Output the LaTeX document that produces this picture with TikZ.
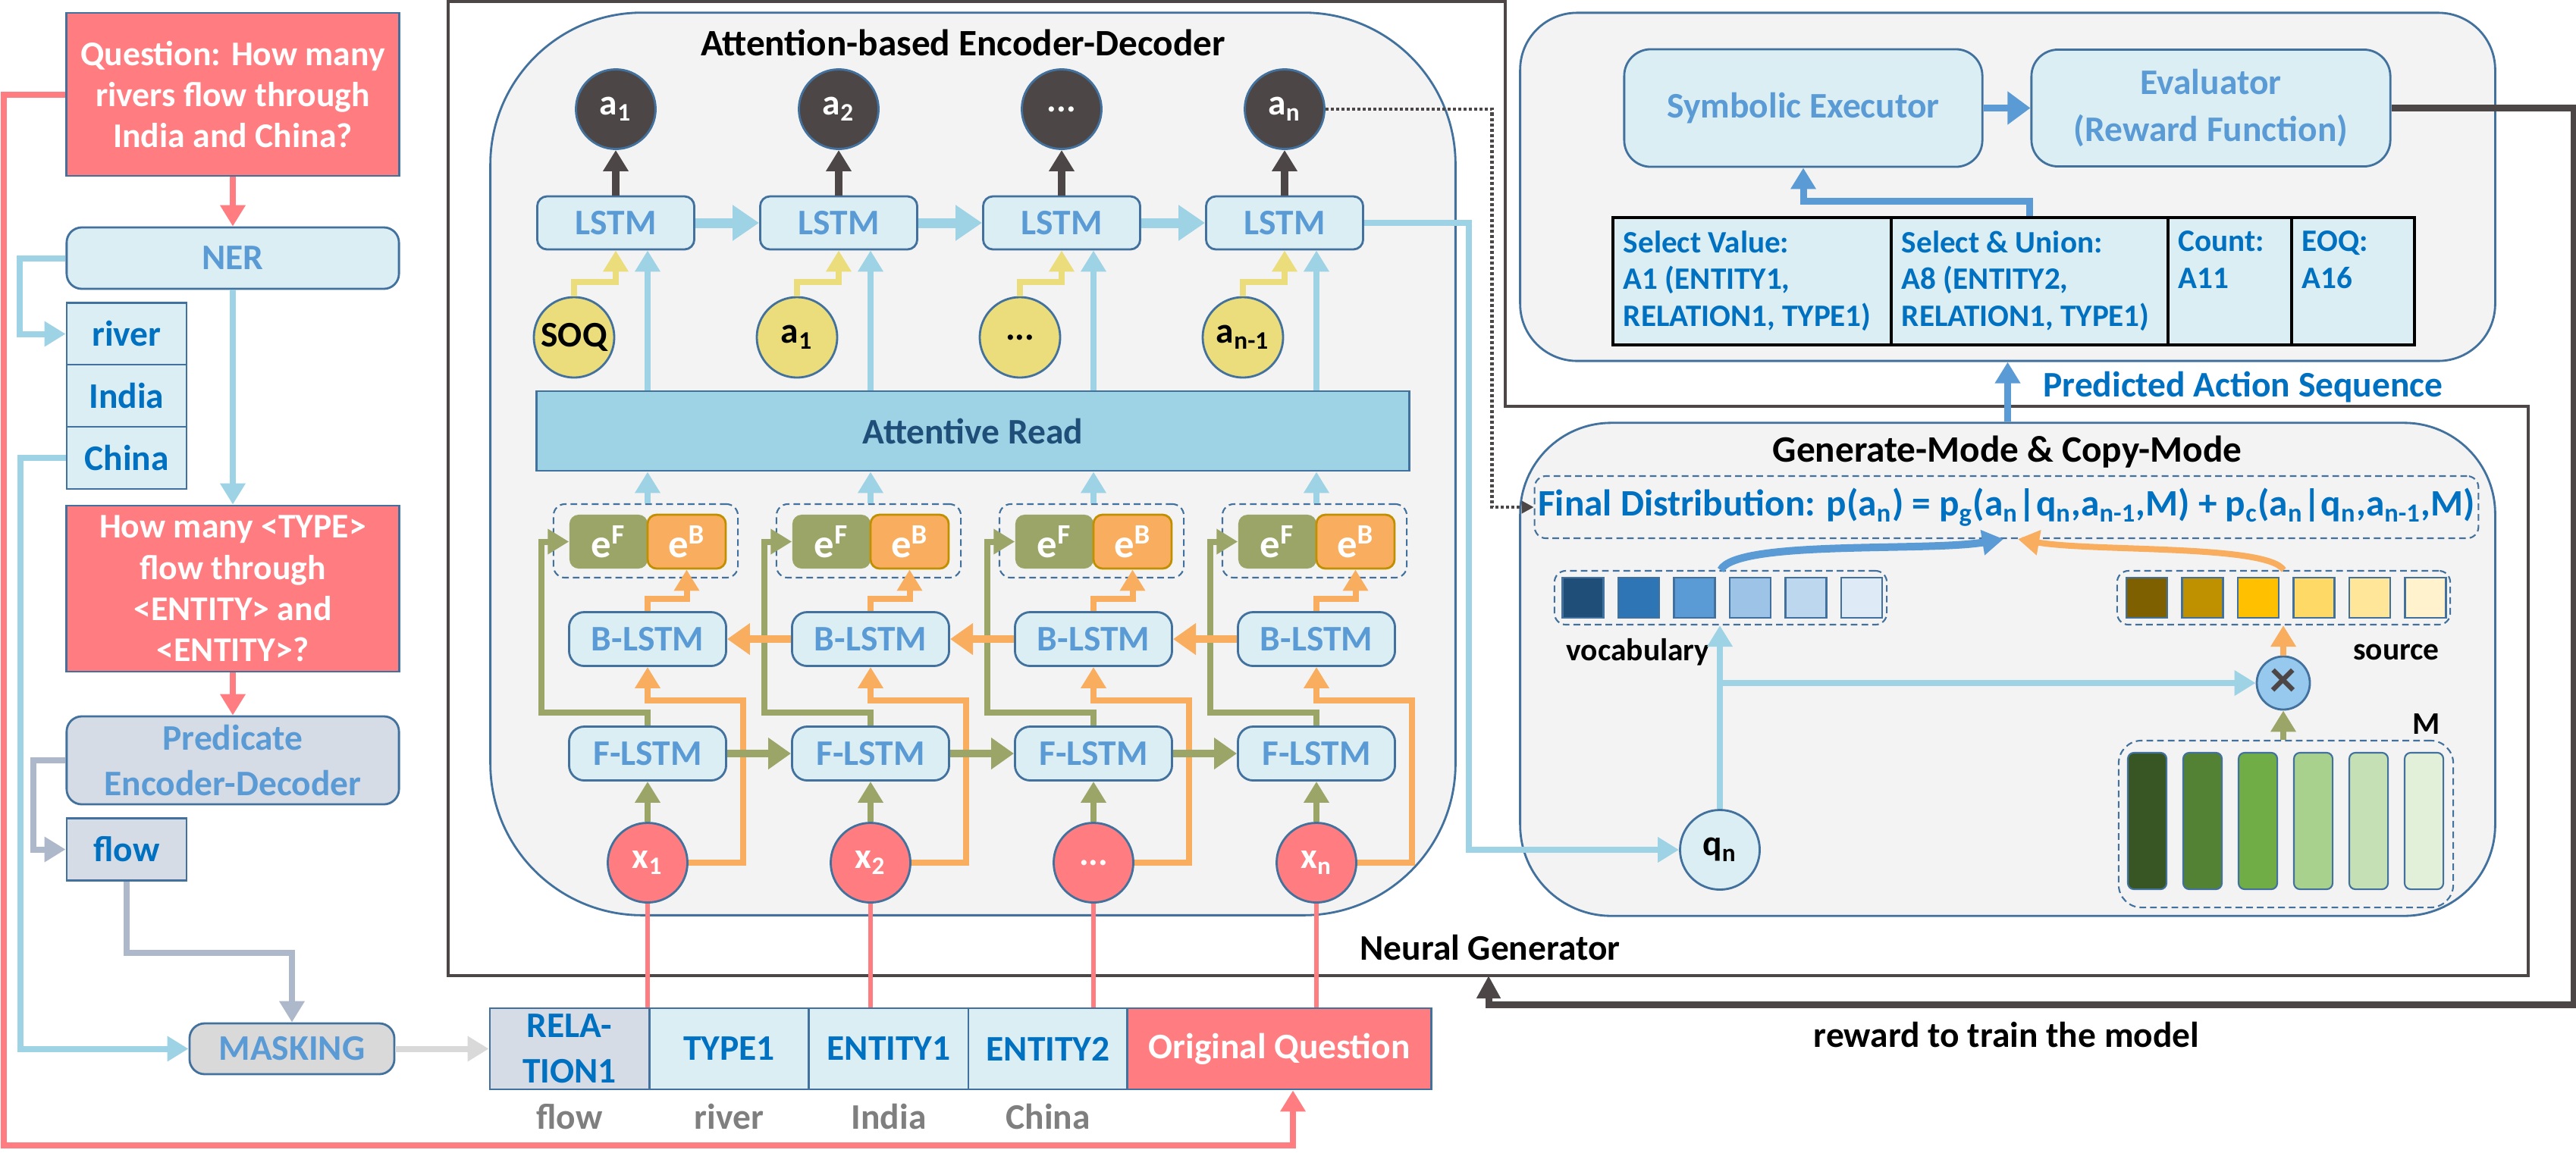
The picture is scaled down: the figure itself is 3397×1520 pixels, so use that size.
\documentclass[tikz,border=0pt]{standalone}
\usepackage{fontspec}
\setmainfont{Carlito}
\usetikzlibrary{arrows.meta,positioning}

\definecolor{pinkq}{HTML}{FF7C80}
\definecolor{edgeblue}{HTML}{41719C}
\definecolor{paleblue}{HTML}{DAEEF3}
\definecolor{midblue}{HTML}{5B9BD5}
\definecolor{deepblue}{HTML}{0070C0}
\definecolor{skyblue}{HTML}{9DD3E5}
\definecolor{slate}{HTML}{D6DCE5}
\definecolor{slatearrow}{HTML}{ADB9CA}
\definecolor{greyfill}{HTML}{D9D9D9}
\definecolor{panelgray}{HTML}{F3F3F3}
\definecolor{charcoal}{HTML}{4D4646}
\definecolor{olive}{HTML}{9BA567}
\definecolor{peach}{HTML}{F9AE5F}
\definecolor{peachedge}{HTML}{C09000}
\definecolor{sand}{HTML}{EBDC7C}
\definecolor{navy}{HTML}{1F4E79}
\definecolor{labelgray}{HTML}{7F7F7F}
\definecolor{multfill}{HTML}{97C8EE}
% swatches
\definecolor{vocab0}{HTML}{1F4E79}
\definecolor{vocab1}{HTML}{2E75B6}
\definecolor{vocab2}{HTML}{5B9BD5}
\definecolor{vocab3}{HTML}{9DC3E6}
\definecolor{vocab4}{HTML}{BDD7EE}
\definecolor{vocab5}{HTML}{DEEBF7}
\definecolor{src0}{HTML}{7F6000}
\definecolor{src1}{HTML}{BF9000}
\definecolor{src2}{HTML}{FFC000}
\definecolor{src3}{HTML}{FFD966}
\definecolor{src4}{HTML}{FFE699}
\definecolor{src5}{HTML}{FFF2CC}
\definecolor{mem0}{HTML}{375623}
\definecolor{mem1}{HTML}{548235}
\definecolor{mem2}{HTML}{70AD47}
\definecolor{mem3}{HTML}{A9D18E}
\definecolor{mem4}{HTML}{C5E0B4}
\definecolor{mem5}{HTML}{E2F0D9}

\begin{document}
\begin{tikzpicture}[
  x=0.01cm, y=-0.01cm,
  every node/.style={inner sep=0pt, font=\bfseries\fontsize{13.5}{16}\selectfont},
  qbox/.style={draw=edgeblue, line width=0.8pt, fill=pinkq, text=white, align=center,
    minimum width=4.38cm, font=\bfseries\fontsize{13}{15.4}\selectfont},
  pill/.style={draw=edgeblue, line width=0.8pt, fill=paleblue, text=midblue, align=center,
    rounded corners=0.2cm, font=\bfseries\fontsize{13.5}{16.8}\selectfont},
  chip/.style={draw=edgeblue, line width=0.8pt, fill=paleblue, text=deepblue,
    minimum width=1.58cm, minimum height=0.82cm},
  slotcell/.style={draw=edgeblue, line width=0.8pt, fill=paleblue, text=deepblue, align=center,
    minimum width=2.1cm, minimum height=1.07cm, font=\bfseries\fontsize{13.5}{17}\selectfont},
  tag/.style={text=labelgray, text height=0.33cm, text depth=0pt},
  panel/.style={draw=edgeblue, line width=0.8pt, fill=panelgray},
  lstmbox/.style={draw=edgeblue, line width=0.8pt, fill=paleblue, text=midblue,
    rounded corners=0.13cm, minimum width=2.07cm, minimum height=0.7cm},
  outnode/.style={circle, draw=edgeblue, line width=0.8pt, fill=charcoal, text=white, minimum size=1.05cm},
  prevnode/.style={circle, draw=edgeblue, line width=0.8pt, fill=sand, minimum size=1.06cm},
  tokennode/.style={circle, draw=edgeblue, line width=0.8pt, fill=pinkq, text=white, minimum size=1.05cm},
  fwdcell/.style={fill=olive, text=white, rounded corners=0.12cm, minimum width=1.03cm, minimum height=0.71cm,
    font=\bfseries\fontsize{15}{17}\selectfont},
  bwdcell/.style={fwdcell, fill=peach, draw=peachedge, line width=0.8pt},
  groupbox/.style={draw=edgeblue, line width=0.6pt, dash pattern=on 2.5pt off 1.5pt, rounded corners=0.15cm},
  link/.style={line width=0.08cm, -{Triangle[length=0.28cm, width=0.32cm]}},
  pinklink/.style={link, draw=pinkq},
  skylink/.style={link, draw=skyblue},
  slatelink/.style={link, draw=slatearrow},
  greylink/.style={link, draw=greyfill},
  olivelink/.style={link, draw=olive},
  peachlink/.style={link, draw=peach},
  sandlink/.style={link, draw=sand},
  darklink/.style={link, draw=charcoal, line width=0.1cm},
  bluelink/.style={link, draw=midblue, line width=0.09cm},
  wideskylink/.style={skylink, line width=0.13cm, -{Triangle[length=0.35cm, width=0.45cm]}},
  pinkline/.style={draw=pinkq, line width=0.06cm},
  ngframe/.style={draw=charcoal, line width=1.3pt},
  actcell/.style={draw=black, line width=1pt, fill=paleblue, minimum height=1.68cm},
  acttext/.style={text=deepblue, align=left, font=\bfseries\fontsize{11.7}{13.7}\selectfont},
  swatch/.style={draw=edgeblue, line width=0.8pt, minimum width=0.54cm, minimum height=0.53cm},
  membar/.style={draw=edgeblue, line width=0.6pt, rounded corners=0.08cm, minimum width=0.51cm, minimum height=1.8cm},
  titletxt/.style={font=\bfseries\fontsize{14}{16}\selectfont},
  smalltxt/.style={font=\bfseries\fontsize{11.8}{13}\selectfont}
]
\useasboundingbox (0,0) rectangle (3397,1520);

% panels
\draw[ngframe] (591,2) -- (1985,2) -- (1985,536) -- (3334,536) -- (3334,1287) -- (591,1287) -- cycle;
\node[panel, rounded corners=2cm, minimum width=12.72cm, minimum height=11.9cm] (encdec) at (1283,612) {};
\node[panel, rounded corners=0.75cm, minimum width=12.85cm, minimum height=4.59cm] (execpanel) at (2647.5,246.5) {};
\node[panel, rounded corners=1.2cm, minimum width=12.85cm, minimum height=6.5cm] (genpanel) at (2647.5,883) {};
\node[titletxt] (enctitle) at (1270,56) {Attention-based Encoder-Decoder};
\node[titletxt] (gentitle) at (2647,596) {Generate-Mode \& Copy-Mode};
\node (ngtitle) at (1965,1250) {Neural Generator};

% left column
\node[qbox, minimum height=2.15cm] (question) at (307,124.5) {Question: How many\\rivers flow through\\India and China?};
\node[pill, minimum width=4.38cm, minimum height=0.81cm] (ner) at (307,340.5) {NER};
\node[chip] (river) at (167,440.5) {river};
\node[chip] (india) at (167,522) {India};
\node[chip] (china) at (167,604) {China};
\node[qbox, minimum height=2.19cm] (template) at (307,776.5) {How many <TYPE>\\flow through\\<ENTITY> and\\<ENTITY>?};
\node[pill, fill=slate, minimum width=4.38cm, minimum height=1.16cm] (pred) at (307,1003) {Predicate\\Encoder-Decoder};
\node[chip, fill=slate] (flow) at (167,1120.5) {flow};
\node[pill, fill=greyfill, minimum width=2.7cm, minimum height=0.67cm] (mask) at (385,1383.5) {MASKING};

% input row
\node[slotcell, fill=slate] (rel) at (751,1383.5) {RELA-\\TION1};
\node[slotcell] (type) at (961.5,1383.5) {TYPE1};
\node[slotcell] (ent1) at (1172,1383.5) {ENTITY1};
\node[slotcell] (ent2) at (1382,1383.5) {ENTITY2};
\node[slotcell, fill=pinkq, text=white, minimum width=4cm] (orig) at (1687,1383.5) {Original Question};
\node[tag, below=0.17cm of rel] (relword) {flow};
\node[tag, below=0.17cm of type] (typeword) {river};
\node[tag, below=0.17cm of ent1] (ent1word) {India};
\node[tag, below=0.17cm of ent2] (ent2word) {China};

\draw[pinklink] (question) -- (ner);
\draw[skylink] (ner.west) -- ++(-60,0) |- (river.west);
\draw[skylink] (ner) -- (template);
\draw[skylink] (china.west) -- ++(-60,0) |- (mask.west);
\draw[pinklink] (template) -- (pred);
\draw[slatelink] (pred.west) -- ++(-42,0) |- (flow.west);
\draw[slatelink] (flow.south) -- ++(0,94) -| (mask.north);
\draw[greylink] (mask) -- (rel);
\draw[pinklink] (question.west) -| (5,1511) -| ([xshift=0.18cm]orig.south);

% encoder-decoder
\node[fill=skyblue, draw=edgeblue, line width=0.8pt, text=navy, minimum width=11.5cm, minimum height=1.05cm] (read) at (1283,568.5) {Attentive Read};
\foreach \i/\x/\outlbl/\prevlbl/\inlbl in {
    1/854/{a\textsubscript{1}}/{SOQ}/{x\textsubscript{1}},
    2/1148/{a\textsubscript{2}}/{a\textsubscript{1}}/{x\textsubscript{2}},
    3/1442/{...}/{...}/{...},
    4/1736/{a\textsubscript{n}}/{a\textsubscript{n-1}}/{x\textsubscript{n}}} {
  \node[outnode] (act\i) at (\x-42,144) {\outlbl};
  \node[lstmbox] (lstm\i) at (\x-42,294) {LSTM};
  \node[prevnode] (prev\i) at (\x-97,445) {\prevlbl};
  \node[groupbox, minimum width=2.43cm, minimum height=0.97cm] (grp\i) at (\x-2.5,713.5) {};
  \node[fwdcell] (ef\i) at (\x-51.5,714.5) {e\textsuperscript{F}};
  \node[bwdcell] (eb\i) at (\x+51.5,714.5) {e\textsuperscript{B}};
  \node[lstmbox, rounded corners=0.2cm, minimum height=0.71cm] (blstm\i) at (\x,843) {B-LSTM};
  \node[lstmbox, rounded corners=0.2cm, minimum height=0.71cm] (flstm\i) at (\x,994) {F-LSTM};
  \node[tokennode] (tok\i) at (\x,1138) {\inlbl};
  \draw[darklink] (lstm\i.north) -- (act\i.south);
  \draw[sandlink] (prev\i.north) -- ++(0,-19) -| (lstm\i.south);
  \draw[skylink] (read.north -| tok\i) -- (lstm\i.south -| tok\i);
  \draw[skylink] (grp\i.north -| tok\i) -- (read.south -| tok\i);
  \draw[olivelink] (tok\i.north) -- (flstm\i.south);
  \draw[peachlink] (tok\i.east) -- ++(72,0) -- ++(0,-214) -| (blstm\i.south);
  \draw[olivelink] (flstm\i.north) -- ++(0,-17) -- ++(-140,0) |- (ef\i.west);
  \draw[peachlink] (blstm\i.north) -- ++(0,-16) -| (eb\i.south);
  \draw[pinkline] (tok\i.south) -- (tok\i.south |- rel.north);
}
\foreach \i/\j in {1/2,2/3,3/4} {
  \draw[wideskylink] (lstm\i) -- (lstm\j);
  \draw[olivelink, line width=0.1cm, -{Triangle[length=0.3cm, width=0.4cm]}] (flstm\i) -- (flstm\j);
  \draw[peachlink, line width=0.1cm, -{Triangle[length=0.3cm, width=0.4cm]}] (blstm\j) -- (blstm\i);
}

% executor and evaluator
\node[pill, minimum width=4.72cm, minimum height=1.55cm, rounded corners=0.35cm, font=\bfseries\fontsize{13.5}{17.5}\selectfont] (symexec) at (2378,142.5) {Symbolic Executor};
\node[pill, minimum width=4.73cm, minimum height=1.54cm, rounded corners=0.35cm, font=\bfseries\fontsize{13.5}{17.5}\selectfont] (evaluator) at (2915.5,142.5) {Evaluator\\(Reward Function)};
\draw[bluelink, -{Triangle[length=0.3cm, width=0.42cm]}] (symexec) -- (evaluator);
\node[actcell, minimum width=3.67cm] (slot1) at (2310.5,371) {};
\node[actcell, minimum width=3.65cm] (slot2) at (2676.5,371) {};
\node[actcell, minimum width=1.63cm] (slot3) at (2940.5,371) {};
\node[actcell, minimum width=1.62cm] (slot4) at (3103,371) {};
\node[acttext, anchor=north west] (slottext1) at ([shift={(0.15cm,-0.19cm)}]slot1.north west) {Select Value:\\A1 (ENTITY1,\\RELATION1, TYPE1)};
\node[acttext, anchor=north west] (slottext2) at ([shift={(0.15cm,-0.19cm)}]slot2.north west) {Select \& Union:\\A8 (ENTITY2,\\RELATION1, TYPE1)};
\node[acttext, anchor=north west] (slottext3) at ([shift={(0.15cm,-0.19cm)}]slot3.north west) {Count:\\A11};
\node[acttext, anchor=north west] (slottext4) at ([shift={(0.15cm,-0.19cm)}]slot4.north west) {EOQ:\\A16};
\draw[bluelink] (slot2.north) -- ++(0,-20) -| (symexec.south);
\draw[bluelink] (genpanel.north) -- (execpanel.south);
\node[text=deepblue] (seqlabel) at (2958,511) {Predicted Action Sequence};

% reward loop
\coordinate (hook) at (1963,1287);
\draw[charcoal, line width=0.09cm, -{Triangle[length=0.3cm, width=0.3cm]}] (evaluator.east) -| (3394,1325) -| (hook);
\node (rewardlbl) at (2646,1365) {reward to train the model};

% generate / copy
\node[groupbox, text=deepblue, minimum width=12.44cm, minimum height=0.82cm, font=\bfseries\fontsize{14}{16}\selectfont] (final) at (2646,669)
  {Final Distribution: p(a\textsubscript{n}) = p\textsubscript{g}(a\textsubscript{n}|q\textsubscript{n},a\textsubscript{n-1},M) + p\textsubscript{c}(a\textsubscript{n}|q\textsubscript{n},a\textsubscript{n-1},M)};
\node[groupbox, minimum width=4.38cm, minimum height=0.71cm] (vocab) at (2269,788.5) {};
\node[groupbox, minimum width=4.39cm, minimum height=0.71cm] (source) at (3011.5,788.5) {};
\node[groupbox, minimum width=4.41cm, minimum height=2.2cm, rounded corners=0.3cm] (memory) at (3014.5,1087) {};
\foreach \k in {0,...,5} {
  \node[swatch, fill=vocab\k] (vsw\k) at (2087.5+73.5*\k,788.5) {};
  \node[swatch, fill=src\k] (ssw\k) at (2831+73.5*\k,788.5) {};
  \node[membar, fill=mem\k] (mbar\k) at (2831.5+73*\k,1083) {};
}
\node[smalltxt] (vocablbl) at (2160,860) {vocabulary};
\node[smalltxt] (sourcelbl) at (3160,860) {source};
\node[smalltxt] (memlbl) at (3200,955) {M};
\node[circle, draw=edgeblue, line width=0.8pt, fill=paleblue, minimum size=1.05cm] (qn) at (2268,1121) {q\textsubscript{n}};
\node[circle, draw=edgeblue, line width=0.8pt, fill=multfill, text=charcoal, minimum size=0.7cm,
  font=\bfseries\fontsize{20}{20}\selectfont] (mult) at (3011,901) {×};
\draw[skylink] (qn.north) -- (vocab.south -| qn.north);
\draw[skylink] (qn.north |- mult.west) -- (mult.west);
\draw[peachlink] (mult.north) -- (source.south -| mult.north);
\draw[olivelink] (memory.north -| mult.south) -- (mult.south);
\draw[bluelink, line width=0.1cm] (vocab.north) .. controls (2290,712) and (2540,728) .. ([xshift=-0.04cm]final.south);
\draw[peachlink] (source.north) .. controls (2990,718) and (2760,728) .. ([xshift=0.15cm]final.south);
\draw[charcoal, line width=0.045cm, dash pattern=on 0.04cm off 0.03cm, -{Triangle[length=0.16cm, width=0.16cm]}] (act4.east) -| ([xshift=-0.55cm]final.west) -- (final.west);
\draw[skylink] (lstm4.east) -| ([xshift=-2.77cm]qn.west) -- (qn.west);
\end{tikzpicture}
\end{document}
